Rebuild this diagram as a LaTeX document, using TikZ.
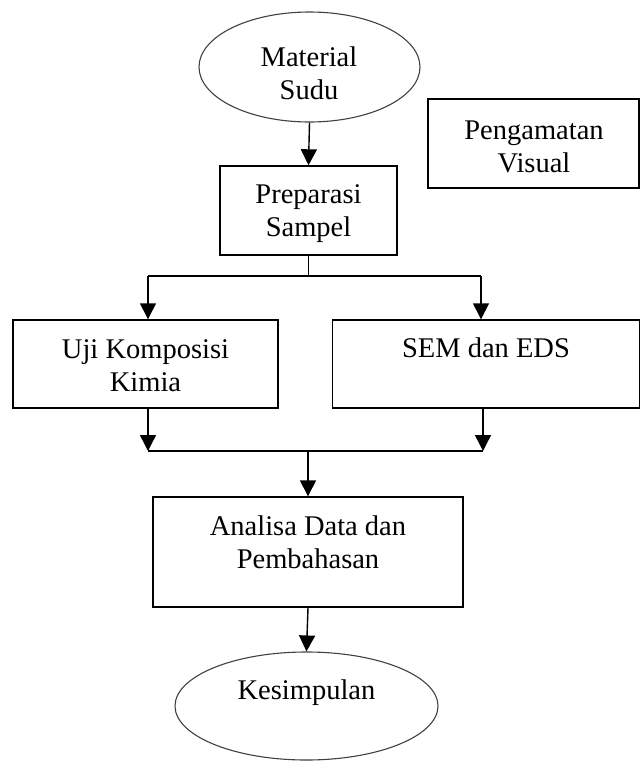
\documentclass[tikz,border=0pt]{standalone}
\usepackage{fontspec}
\setmainfont{Liberation Serif}
\usetikzlibrary{shapes.geometric,arrows.meta}
\begin{document}
\begin{tikzpicture}[x=1pt,y=1pt,
  box/.style={draw=black,line width=1.4pt,rectangle,inner sep=0pt},
  oval/.style={draw=black!75,line width=1.1pt,ellipse,inner sep=0pt},
  txt/.style={align=center,inner sep=0pt,font=\fontsize{28.5}{33}\selectfont},
  link/.style={line width=1.4pt},
  arr/.style={line width=1.4pt,-{Triangle[length=16pt,width=16pt]}}]
\useasboundingbox (0,0) rectangle (641,-761);
% shapes
\node[oval,minimum width=221pt,minimum height=110pt] (ms) at (309.5,-67) {};
\node[box,minimum width=177pt,minimum height=89pt] (prep) at (308.5,-210.5) {};
\node[box,minimum width=211pt,minimum height=89pt] (peng) at (533.5,-143.5) {};
\node[box,minimum width=265pt,minimum height=88pt] (uji) at (145.5,-364) {};
\node[box,minimum width=307pt,minimum height=88pt] (sem) at (486,-364) {};
\node[box,minimum width=310pt,minimum height=110pt] (ana) at (308,-552) {};
\node[oval,minimum width=263pt,minimum height=108pt] (kes) at (306.5,-706) {};
% texts
\node[txt] (msT) at (309,-73.5) {Material\\Sudu};
\node[txt] (prepT) at (308.5,-213.5) {Preparasi\\Sampel};
\node[txt] (pengT) at (534,-146.5) {Pengamatan\\Visual};
\node[txt] (ujiT) at (145.5,-366) {Uji Komposisi\\Kimia};
\node[txt] (semT) at (486,-348) {SEM dan EDS};
\node[txt] (anaT) at (308,-542) {Analisa Data dan\\Pembahasan};
\node[txt] (kesT) at (306.5,-693) {Kesimpulan};
% junctions
\coordinate (jL) at (148,-276);
\coordinate (jR) at (481,-276);
\coordinate (mL) at (148,-451);
\coordinate (mR) at (483,-451);
% connectors
\draw[arr] (ms.south) -- (prep.north);
\draw[link] (prep.south) -- (prep.south |- jL);
\draw[link] (jL) -- (jR);
\draw[arr] (jL) -- (jL |- uji.north);
\draw[arr] (jR) -- (jR |- sem.north);
\draw[arr] (mL |- uji.south) -- (mL);
\draw[arr] (mR |- sem.south) -- (mR);
\draw[link] (mL) -- (mR);
\draw[arr] (ana.north |- mL) -- (ana.north);
\draw[arr] (ana.south) -- (kes.north);
\end{tikzpicture}
\end{document}
